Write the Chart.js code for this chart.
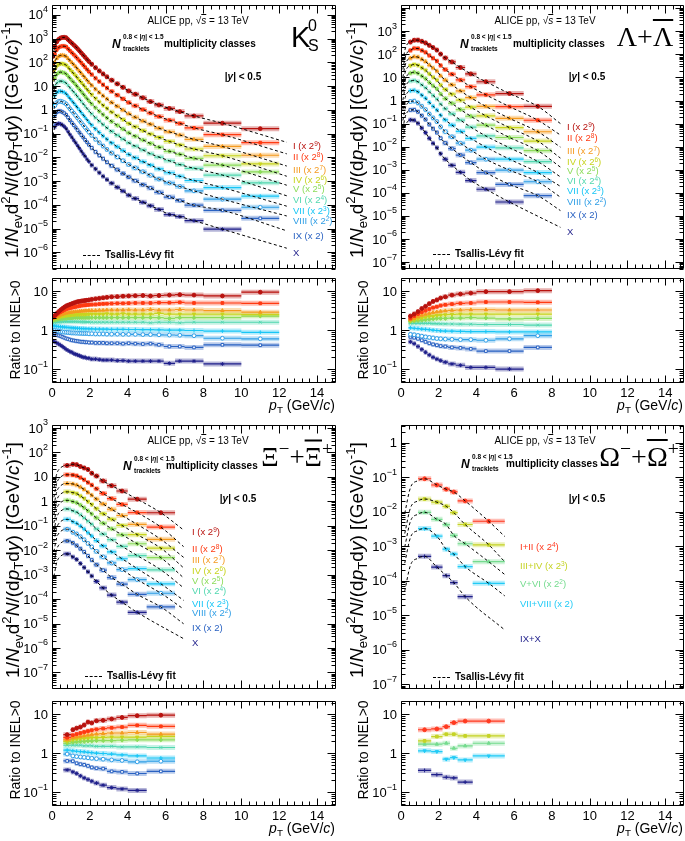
<!DOCTYPE html>
<html>
<head>
<meta charset="utf-8">
<script src="https://cdn.jsdelivr.net/npm/chart.js"></script>
<style>
  body { margin: 0; background: #fff; }
  #page { position: relative; width: 685px; height: 841px; overflow: hidden; font-family: "Liberation Sans", Arial, sans-serif; color: #000; }
  canvas { position: absolute; }
  #page div { position: absolute; white-space: nowrap; line-height: 1; }
  sub { font-size: .7em; vertical-align: -.35em; line-height: 0; }
  sup { font-size: .7em; vertical-align: .55em; line-height: 0; }
  .t { transform: translateY(-50%); }
  .c { transform: translate(-50%, -50%); }
  .yt { font-size: 19px; transform: translate(-50%, -50%) rotate(-90deg); }
  .rt { font-size: 14px; transform: translate(-50%, -50%) rotate(-90deg); }
  .b { font-weight: bold; }
  .lab { font-size: 9.5px; transform: translateY(-50%); }
  .lab sup { font-size: 6.5px; }
  .dash { width: 17px; border-top: 1.2px dashed #000; }
  .pt { font-size: 14px; transform: translateY(-50%); }
  .ov { text-decoration: overline; }
  .sym { font-family: "Liberation Serif", serif; font-size: 28px; transform: translate(-50%, -50%); }
</style>
</head>
<body>
<div id="page"></div>
<script>
// ---------- shared axis values ----------
const xTicks = [0, 2, 4, 6, 8, 10, 12, 14];
const ratioTicks = [0.1, 1, 10];
const ratioMin = 0.0437, ratioMax = 22;
const classNames = ['I', 'II', 'III', 'IV', 'V', 'VI', 'VII', 'VIII', 'IX', 'X'];
const scaleExp = [9, 8, 7, 6, 5, 4, 3, 2, 1, 0];
const classColors = ['#b8120e', '#ff3a12', '#f59a1e', '#c8d41e', '#8cdc5a', '#52d8b0', '#18c6f6', '#2f9ee6', '#2a62c2', '#1e1e8a'];

// ---------- K0S ----------
const kEdges = [0, 0.1, 0.2, 0.3, 0.4, 0.5, 0.6, 0.7, 0.8, 0.9, 1.0, 1.1, 1.2, 1.3, 1.4, 1.5, 1.6, 1.7, 1.8, 1.9, 2.0, 2.2, 2.4, 2.6, 2.8, 3.0, 3.3, 3.6, 3.9, 4.2, 4.6, 5.0, 5.4, 5.9, 6.5, 7.0, 8.0, 10.0, 12.0];
const kInel = [0.16, 0.38, 0.52, 0.6, 0.62, 0.6, 0.56, 0.5, 0.4, 0.32, 0.26, 0.21, 0.17, 0.135, 0.108, 0.086, 0.069, 0.055, 0.044, 0.035, 0.026, 0.018, 0.0128, 0.0093, 0.0068, 0.0048, 0.0033, 0.0023, 0.0016, 0.00115, 0.0008, 0.00057, 0.0004, 0.00028, 0.0002, 0.000135, 0.00007, 0.000033];
const kRatio = [
  [2.2, 2.4, 2.7, 3.0, 3.3, 3.6, 3.9, 4.2, 4.4, 4.6, 4.8, 5.0, 5.2, 5.4, 5.5, 5.6, 5.7, 5.8, 5.9, 6.0, 6.2, 6.4, 6.6, 6.8, 7.0, 7.2, 7.3, 7.5, 7.6, 7.7, 7.8, 7.6, 7.8, 8.0, 8.2, 8.0, 7.6, 9.5],
  [2.1, 2.3, 2.5, 2.7, 2.9, 3.1, 3.3, 3.5, 3.6, 3.7, 3.8, 3.9, 4.0, 4.1, 4.2, 4.3, 4.35, 4.4, 4.45, 4.5, 4.55, 4.6, 4.7, 4.75, 4.8, 4.85, 4.9, 4.9, 4.95, 5.0, 5.0, 5.0, 5.1, 5.1, 5.2, 5.0, 5.0, 4.9],
  [2.0, 2.1, 2.2, 2.3, 2.45, 2.55, 2.65, 2.75, 2.8, 2.85, 2.9, 2.95, 3.0, 3.0, 3.05, 3.1, 3.1, 3.15, 3.15, 3.2, 3.2, 3.2, 3.25, 3.25, 3.3, 3.3, 3.3, 3.3, 3.35, 3.3, 3.3, 3.4, 3.3, 3.3, 3.4, 3.3, 3.2, 2.9],
  [1.9, 2.0, 2.05, 2.1, 2.2, 2.25, 2.3, 2.35, 2.4, 2.4, 2.45, 2.45, 2.5, 2.5, 2.5, 2.55, 2.55, 2.55, 2.6, 2.6, 2.6, 2.6, 2.6, 2.6, 2.65, 2.6, 2.6, 2.65, 2.6, 2.6, 2.6, 2.6, 2.7, 2.6, 2.6, 2.6, 2.6, 2.5],
  [1.75, 1.8, 1.85, 1.9, 1.95, 1.95, 2.0, 2.0, 2.05, 2.05, 2.05, 2.1, 2.1, 2.1, 2.1, 2.1, 2.1, 2.1, 2.1, 2.1, 2.1, 2.1, 2.1, 2.1, 2.1, 2.1, 2.1, 2.1, 2.1, 2.1, 2.1, 2.1, 2.1, 2.0, 2.1, 2.1, 2.1, 2.3],
  [1.55, 1.58, 1.6, 1.62, 1.63, 1.64, 1.65, 1.65, 1.65, 1.65, 1.65, 1.65, 1.65, 1.64, 1.64, 1.63, 1.63, 1.62, 1.62, 1.62, 1.6, 1.6, 1.6, 1.6, 1.6, 1.6, 1.6, 1.6, 1.6, 1.6, 1.6, 1.55, 1.6, 1.6, 1.55, 1.6, 1.6, 1.6],
  [1.3, 1.28, 1.26, 1.24, 1.22, 1.21, 1.2, 1.18, 1.17, 1.16, 1.15, 1.14, 1.13, 1.12, 1.11, 1.1, 1.1, 1.09, 1.09, 1.08, 1.08, 1.07, 1.07, 1.06, 1.06, 1.05, 1.05, 1.05, 1.04, 1.04, 1.03, 1.03, 1.02, 1.0, 1.0, 0.98, 0.95, 0.88],
  [1.0, 0.98, 0.96, 0.94, 0.92, 0.9, 0.89, 0.88, 0.87, 0.86, 0.85, 0.85, 0.84, 0.84, 0.83, 0.83, 0.82, 0.82, 0.82, 0.81, 0.81, 0.8, 0.8, 0.8, 0.79, 0.79, 0.79, 0.78, 0.78, 0.78, 0.77, 0.77, 0.76, 0.75, 0.74, 0.72, 0.62, 0.6],
  [0.8, 0.78, 0.76, 0.73, 0.7, 0.67, 0.64, 0.61, 0.59, 0.57, 0.55, 0.54, 0.53, 0.52, 0.51, 0.5, 0.5, 0.49, 0.49, 0.48, 0.48, 0.47, 0.47, 0.47, 0.46, 0.46, 0.46, 0.45, 0.46, 0.45, 0.44, 0.45, 0.42, 0.38, 0.38, 0.36, 0.42, 0.41],
  [0.52, 0.5, 0.47, 0.44, 0.41, 0.38, 0.35, 0.32, 0.3, 0.28, 0.27, 0.25, 0.24, 0.23, 0.22, 0.21, 0.2, 0.2, 0.19, 0.19, 0.18, 0.18, 0.175, 0.17, 0.17, 0.17, 0.165, 0.165, 0.16, 0.16, 0.16, 0.16, 0.16, 0.14, 0.16, 0.16, 0.135]
];
const kFitEnd = [0.043, 0.014, 0.0043, 0.0016, 0.00067, 0.00024, 0.000088, 0.000034, 0.0000081, 0.0000015];
const kMainTicks = [1e-6, 1e-5, 1e-4, 1e-3, 1e-2, 1e-1, 1, 10, 100, 1e3, 1e4];

// ---------- Lambda ----------
const lEdges = [0.4, 0.6, 0.8, 1.0, 1.2, 1.4, 1.6, 1.8, 2.0, 2.2, 2.5, 2.9, 3.4, 4.0, 5.0, 6.5, 8.0];
const lInel = [0.29, 0.31, 0.27, 0.2, 0.15, 0.1, 0.07, 0.05, 0.03, 0.019, 0.0115, 0.0062, 0.0031, 0.0013, 0.0004, 0.000105];
const lRatio = [
  [2.3, 2.6, 3.0, 3.6, 4.1, 4.8, 5.5, 6.0, 6.7, 7.2, 8.0, 8.5, 9.0, 9.8, 9.8, 10.4],
  [2.0, 2.3, 2.6, 2.9, 3.2, 3.5, 3.8, 4.0, 4.3, 4.5, 4.7, 4.9, 5.0, 5.3, 5.3, 5.2],
  [1.85, 2.0, 2.2, 2.4, 2.55, 2.7, 2.85, 2.95, 3.05, 3.15, 3.25, 3.3, 3.35, 3.35, 3.3, 3.3],
  [1.75, 1.85, 1.95, 2.05, 2.15, 2.25, 2.3, 2.4, 2.45, 2.5, 2.55, 2.6, 2.6, 2.6, 2.6, 2.6],
  [1.65, 1.7, 1.75, 1.8, 1.85, 1.9, 1.95, 2.0, 2.0, 2.0, 2.05, 2.05, 2.1, 2.05, 1.95, 2.0],
  [1.5, 1.5, 1.5, 1.5, 1.5, 1.5, 1.48, 1.47, 1.46, 1.45, 1.44, 1.43, 1.42, 1.4, 1.4, 1.35],
  [1.15, 1.12, 1.1, 1.07, 1.05, 1.03, 1.0, 0.98, 0.96, 0.95, 0.94, 0.93, 0.92, 0.92, 0.9, 0.9],
  [0.78, 0.76, 0.73, 0.7, 0.67, 0.65, 0.63, 0.61, 0.6, 0.59, 0.58, 0.57, 0.57, 0.55, 0.6, 0.72],
  [0.67, 0.64, 0.6, 0.55, 0.5, 0.46, 0.43, 0.41, 0.39, 0.38, 0.36, 0.35, 0.33, 0.29, 0.29, 0.36],
  [0.5, 0.45, 0.38, 0.32, 0.27, 0.23, 0.2, 0.18, 0.165, 0.15, 0.135, 0.125, 0.11, 0.11, 0.1]
];
const lFitEnd = [0.1, 0.032, 0.0096, 0.0032, 0.0013, 0.00049, 0.00019, 0.000065, 0.000017, 0.0000032];
const lMainTicks = [1e-7, 1e-6, 1e-5, 1e-4, 1e-3, 1e-2, 1e-1, 1, 10, 100, 1e3];

// ---------- Xi ----------
const xEdges = [0.6, 1.0, 1.2, 1.4, 1.6, 1.8, 2.0, 2.2, 2.5, 2.9, 3.4, 4.0, 5.0, 6.5];
const xInel = [0.019, 0.016, 0.014, 0.011, 0.0085, 0.0062, 0.0046, 0.0031, 0.0019, 0.00112, 0.00062, 0.00026, 0.00007];
const xRatio = [
  [3.0, 4.0, 4.4, 4.7, 5.3, 6.3, 6.0, 6.8, 7.0, 7.6, 8.3, 9.2, 9.5],
  [2.5, 2.9, 3.1, 3.3, 3.5, 3.7, 3.9, 4.1, 4.3, 4.5, 4.7, 5.2, 4.9],
  [2.2, 2.5, 2.6, 2.7, 2.8, 2.9, 3.0, 3.1, 3.2, 3.3, 3.3, 3.4, 3.1],
  [2.0, 2.2, 2.3, 2.35, 2.4, 2.45, 2.5, 2.5, 2.55, 2.6, 2.6, 2.6, 2.7],
  [1.8, 1.9, 1.95, 2.0, 2.0, 2.05, 2.05, 2.1, 2.1, 2.1, 2.15, 2.2, 2.2],
  [1.6, 1.6, 1.6, 1.6, 1.55, 1.55, 1.55, 1.5, 1.5, 1.5, 1.45, 1.45, 1.4],
  [1.2, 1.15, 1.12, 1.1, 1.08, 1.05, 1.03, 1.0, 0.98, 0.95, 0.9, 0.85, 0.75],
  [0.95, 0.85, 0.82, 0.8, 0.78, 0.76, 0.74, 0.72, 0.7, 0.67, 0.65, 0.6, 0.62],
  [0.63, 0.62, 0.55, 0.52, 0.5, 0.47, 0.43, 0.41, 0.4, 0.34, 0.33, 0.3, 0.34],
  [0.37, 0.33, 0.3, 0.26, 0.23, 0.21, 0.19, 0.17, 0.15, 0.13, 0.12, 0.11]
];
const xFitEnd = [0.067, 0.014, 0.0051, 0.0019, 0.00074, 0.00029, 0.000089, 0.000039, 0.0000098, 0.0000024];
const xMainTicks = [1e-7, 1e-6, 1e-5, 1e-4, 1e-3, 1e-2, 1e-1, 1, 10, 100, 1e3];

// ---------- Omega ----------
const oNames = ['I+II', 'III+IV', 'V+VI', 'VII+VIII', 'IX+X'];
const oExp = [4, 3, 2, 1, 0];
const oColors = ['#ff3a20', '#c5d326', '#74db8e', '#22cbf6', '#1e1e8a'];
const oEdges = [0.9, 1.6, 2.2, 2.6, 3.0, 3.8, 5.5];
const oInel = [0.0014, 0.00088, 0.00058, 0.00038, 0.00019, 0.000049];
const oRatio = [
  [4.0, 4.2, 4.8, 6.1, 6.7, 6.7],
  [2.07, 2.67, 3.07, 3.07, 2.78, 2.78],
  [1.7, 1.7, 1.8, 1.34, 1.54, 1.8],
  [1.15, 1.1, 0.7, 0.77, 0.67, 0.85],
  [0.36, 0.28, 0.24, 0.23, 0.18]
];
const oFitEnd = [0.0019, 0.00035, 0.00015, 0.000036, 0.0000037];
const oMainTicks = [1e-7, 1e-6, 1e-5, 1e-4, 1e-3, 1e-2, 1e-1, 1];

// marker style per class: [pointStyle, filled, rotation]
const markers = [['circle', true], ['rect', true], ['triangle', true], ['triangle', true, 180], ['rectRot', true],
  ['crossRot', false], ['cross', false], ['circle', false], ['rect', false], ['star', false]];

const page = document.getElementById('page');

function fade(hex, a) {
  const n = parseInt(hex.slice(1), 16);
  return 'rgba(' + (n >> 16) + ',' + ((n >> 8) & 255) + ',' + (n & 255) + ',' + a + ')';
}

// frame, inward tick marks and y labels like ROOT draws them
const framePlugin = {
  id: 'frame',
  afterDraw(chart, args, o) {
    const { ctx, chartArea: a } = chart;
    const xs = chart.scales.x, ys = chart.scales.y;
    const L = Math.round(a.left) + 0.5, R = Math.round(a.right) - 0.5;
    const T = Math.round(a.top) + 0.5, B = Math.round(a.bottom) - 0.5;
    ctx.save();
    ctx.strokeStyle = '#000';
    ctx.lineWidth = 1;
    ctx.beginPath();
    ctx.rect(L, T, R - L, B - T);
    for (let k = 0; k <= 37; k++) {
      const v = k * 0.4;
      if (v > xs.max) break;
      const px = Math.round(xs.getPixelForValue(v)) + 0.5;
      const len = k % 5 === 0 ? o.xMajor : o.xMinor;
      ctx.moveTo(px, B); ctx.lineTo(px, B - len);
      ctx.moveTo(px, T); ctx.lineTo(px, T + len);
    }
    const e0 = Math.floor(Math.log10(ys.min)), e1 = Math.ceil(Math.log10(ys.max));
    for (let e = e0; e <= e1; e++) {
      for (let m = 1; m <= 9; m++) {
        const v = m * Math.pow(10, e);
        if (v < ys.min || v > ys.max) continue;
        const py = Math.round(ys.getPixelForValue(v)) + 0.5;
        const len = m === 1 ? o.yMajor : o.yMinor;
        ctx.moveTo(L, py); ctx.lineTo(L + len, py);
        ctx.moveTo(R, py); ctx.lineTo(R - len, py);
      }
    }
    ctx.stroke();

    ctx.fillStyle = '#000';
    ctx.textBaseline = 'middle';
    ctx.textAlign = 'left';
    o.yTicks.forEach(v => {
      const e = Math.round(Math.log10(v));
      const py = ys.getPixelForValue(v);
      const base = e === 0 ? '1' : '10';
      const exp = (e === 0 || e === 1) ? '' : String(e).replace('-', '\u2212');
      ctx.font = '9px "Liberation Sans"';
      const we = exp ? ctx.measureText(exp).width : 0;
      ctx.font = '13px "Liberation Sans"';
      const wb = ctx.measureText(base).width;
      const xr = a.left - 4;
      ctx.fillText(base, xr - we - wb, py + 1);
      if (exp) {
        ctx.font = '9px "Liberation Sans"';
        ctx.fillText(exp, xr - we, py - 5);
      }
    });
    ctx.restore();
  }
};

function makeChart(frame, datasets, yMin, yMax, yTicks, withX, tick) {
  const padL = 50, padT = 14, padR = 6, padB = withX ? 22 : 6;
  const cv = document.createElement('canvas');
  cv.width = frame.r - frame.l + padL + padR;
  cv.height = frame.b - frame.t + padT + padB;
  cv.style.left = (frame.l - padL) + 'px';
  cv.style.top = (frame.t - padT) + 'px';
  page.appendChild(cv);
  return new Chart(cv, {
    type: 'line',
    data: { datasets },
    options: {
      responsive: false,
      animation: false,
      events: [],
      layout: { padding: { left: 0, top: padT, right: padR, bottom: withX ? 0 : padB } },
      plugins: {
        legend: { display: false },
        tooltip: { enabled: false },
        frame: Object.assign({ yTicks }, tick)
      },
      scales: {
        x: {
          type: 'linear', min: 0, max: 15, display: withX,
          grid: { display: false, drawTicks: false },
          border: { display: false },
          afterBuildTicks: s => { s.ticks = xTicks.map(v => ({ value: v })); },
          afterFit: s => { s.height = padB; },
          ticks: { font: { family: 'Liberation Sans', size: 13 }, color: '#000', padding: 3, maxRotation: 0, autoSkip: false }
        },
        y: {
          type: 'logarithmic', min: yMin, max: yMax,
          grid: { display: false, drawTicks: false },
          border: { display: false },
          ticks: { display: false },
          afterFit: s => { s.width = padL; }
        }
      }
    },
    plugins: [framePlugin]
  });
}

// horizontal bars over each pT bin, marker at bin centre, gap between bins
function segments(edges, vals) {
  const pts = [];
  vals.forEach((v, i) => {
    const lo = edges[i], hi = edges[i + 1];
    pts.push({ x: lo, y: v }, { x: (lo + hi) / 2, y: v, m: 1 }, { x: hi, y: v }, { x: hi, y: null });
  });
  return pts;
}

function barSets(edges, vals, col, mk) {
  const pts = segments(edges, vals);
  return [
    { data: pts, order: 3, borderColor: fade(col, 0.33), borderWidth: 5, borderCapStyle: 'butt', pointRadius: 0, spanGaps: false },
    { data: pts, order: 2, borderColor: col, borderWidth: 1.2, spanGaps: false,
      pointStyle: mk[0], pointRotation: mk[2] || 0,
      pointRadius: ctx => (ctx.raw && ctx.raw.m) ? 1.9 : 0,
      pointBackgroundColor: mk[1] ? col : '#fff', pointBorderColor: col, pointBorderWidth: 1 }
  ];
}

function buildPanel(p) {
  const mainSets = [], ratioSets = [];
  p.ratios.forEach((r, c) => {
    const col = p.colors[c];
    const mk = markers[p.markerIdx[c]];
    const spec = r.map((v, i) => p.inel[i] * v * Math.pow(2, p.exps[c]));
    const fit = p.fitHeadPt.map((x, k) => ({ x, y: spec[0] * p.fitHeadRel[k] }));
    spec.forEach((v, i) => {
      const cx = (p.edges[i] + p.edges[i + 1]) / 2;
      if (cx <= p.fitLastPt) fit.push({ x: cx, y: v });
    });
    fit.push({ x: p.fitEndPt, y: p.fitEnd[c] });
    mainSets.push({ data: fit, order: 1, borderColor: '#000', borderWidth: 1, borderDash: [3, 2.5],
      pointRadius: 0, cubicInterpolationMode: 'monotone' });
    mainSets.push(...barSets(p.edges, spec, col, mk));
    ratioSets.push(...barSets(p.edges, r, col, mk));
  });
  makeChart(p.main, mainSets, p.mainMin, p.mainMax, p.mainTicks, false, { xMajor: 8, xMinor: 4, yMajor: 8, yMinor: 4 });
  makeChart(p.ratio, ratioSets, ratioMin, ratioMax, ratioTicks, true, { xMajor: 7, xMinor: 4, yMajor: 8, yMinor: 4 });
}

function put(cls, x, y, html, style) {
  const d = document.createElement('div');
  d.className = cls;
  d.style.left = x + 'px';
  d.style.top = y + 'px';
  if (style) d.style.cssText += style;
  d.innerHTML = html;
  page.appendChild(d);
  return d;
}

const Y_TITLE = '1/<i>N</i><sub>ev</sub>d<sup>2</sup><i>N</i>/(d<i>p</i><sub>T</sub>d<i>y</i>) [(GeV/<i>c</i>)<sup>-1</sup>]';

function annotate(a, names, exps, colors) {
  put('yt', a.yt[0], a.yt[1], Y_TITLE);
  put('rt', a.rt[0], a.rt[1], 'Ratio to INEL&gt;0');
  put('c', a.alice[0], a.alice[1], 'ALICE pp, \u221A<span class="ov"><i>s</i></span> = 13 TeV', 'font-size:10px');
  put('t b', a.n[0], a.n[1], '<i>N</i>', 'font-size:12px');
  put('t b', a.n[0] + 11, a.n[1] - 7, '0.8 &lt; |<i>\u03B7</i>| &lt; 1.5', 'font-size:6.5px');
  put('t b', a.n[0] + 11, a.n[1] + 5, 'tracklets', 'font-size:6.5px');
  put('t b', a.m, a.n[1], 'multiplicity classes', 'font-size:10px');
  put('c b', a.y[0], a.y[1], '|<i>y</i>| &lt; 0.5', 'font-size:10px');
  put('dash', a.leg[0], a.leg[1], '');
  put('t b', a.leg[0] + 22, a.leg[1], 'Tsallis-L\u00E9vy fit', 'font-size:10px');
  names.forEach((n, i) => {
    const e = exps[i];
    const s = e > 1 ? ' (x 2<sup>' + e + '</sup>)' : e === 1 ? ' (x 2)' : '';
    put('lab', a.labX, a.labY[i], n + s, 'color:' + colors[i]);
  });
  const pt = put('pt', 0, a.pt[1], '<i>p</i><sub>T</sub> (GeV/<i>c</i>)');
  pt.style.left = '';
  pt.style.right = (685 - a.pt[0]) + 'px';
}

// ---------- build the four panels ----------
buildPanel({
  main: { l: 52, t: 5, r: 336, b: 275 }, ratio: { l: 52, t: 278, r: 336, b: 383 },
  edges: kEdges, inel: kInel, ratios: kRatio, exps: scaleExp, colors: classColors, markerIdx: [0, 1, 2, 3, 4, 5, 6, 7, 8, 9],
  fitHeadPt: [], fitHeadRel: [], fitLastPt: 9, fitEndPt: 12.4, fitEnd: kFitEnd,
  mainMin: 2.0e-7, mainMax: 25700, mainTicks: kMainTicks
});
buildPanel({
  main: { l: 401, t: 5, r: 684, b: 275 }, ratio: { l: 401, t: 278, r: 684, b: 383 },
  edges: lEdges, inel: lInel, ratios: lRatio, exps: scaleExp, colors: classColors, markerIdx: [0, 1, 2, 3, 4, 5, 6, 7, 8, 9],
  fitHeadPt: [0.1, 0.22, 0.35], fitHeadRel: [0.15, 0.5, 0.85], fitLastPt: 8, fitEndPt: 8.45, fitEnd: lFitEnd,
  mainMin: 5.0e-8, mainMax: 13800, mainTicks: lMainTicks
});
buildPanel({
  main: { l: 52, t: 425, r: 336, b: 695 }, ratio: { l: 52, t: 701, r: 336, b: 806 },
  edges: xEdges, inel: xInel, ratios: xRatio, exps: scaleExp, colors: classColors, markerIdx: [0, 1, 2, 3, 4, 5, 6, 7, 8, 9],
  fitHeadPt: [0.1, 0.25, 0.45], fitHeadRel: [0.12, 0.45, 0.8], fitLastPt: 6.5, fitEndPt: 6.95, fitEnd: xFitEnd,
  mainMin: 2.1e-8, mainMax: 1320, mainTicks: xMainTicks
});
buildPanel({
  main: { l: 401, t: 425, r: 684, b: 695 }, ratio: { l: 401, t: 701, r: 684, b: 806 },
  edges: oEdges, inel: oInel, ratios: oRatio, exps: oExp, colors: oColors, markerIdx: [0, 1, 2, 3, 6],
  fitHeadPt: [0.2, 0.5, 0.9], fitHeadRel: [0.1, 0.55, 0.88], fitLastPt: 5, fitEndPt: 5.5, fitEnd: oFitEnd,
  mainMin: 7.2e-8, mainMax: 3.24, mainTicks: oMainTicks
});

annotate({ yt: [11, 140], rt: [15, 330], alice: [198, 21], n: [112, 44], m: 164, y: [243, 77], leg: [83, 255],
  labX: 293, labY: [146, 157, 170, 180, 189, 200, 211, 221, 236, 253], pt: [335, 405] }, classNames, scaleExp, classColors);
annotate({ yt: [356, 140], rt: [363, 330], alice: [545, 21], n: [460, 44], m: 513, y: [587, 77], leg: [433, 254],
  labX: 567, labY: [127, 138, 151, 162, 171, 181, 191, 202, 215, 232], pt: [683, 405] }, classNames, scaleExp, classColors);
annotate({ yt: [12, 560], rt: [15, 750], alice: [198, 441], n: [123, 466], m: 166, y: [238, 499], leg: [85, 676],
  labX: 192, labY: [532, 549, 560, 571, 581, 591, 604, 613, 628, 643], pt: [335, 828] }, classNames, scaleExp, classColors);
annotate({ yt: [356, 560], rt: [363, 750], alice: [545, 441], n: [461, 464], m: 506, y: [587, 499], leg: [433, 677],
  labX: 520, labY: [547, 566, 584, 604, 639], pt: [683, 828] }, oNames, oExp, oColors);

// particle symbols
put('t', 291, 37, 'K', 'font-size:29px');
put('t', 308, 26, '0', 'font-size:16px');
put('t', 308, 46, 'S', 'font-size:16px');
put('sym', 645, 37, '\u039B+<span class="ov">\u039B</span>');
put('sym', 297, 457, '\u039E<sup>\u2212</sup>+<span class="ov">\u039E</span><sup>+</sup>', 'font-size:27px');
put('sym', 639, 457, '\u03A9<sup>\u2212</sup>+<span class="ov">\u03A9</span><sup>+</sup>');
</script>
</body>
</html>
